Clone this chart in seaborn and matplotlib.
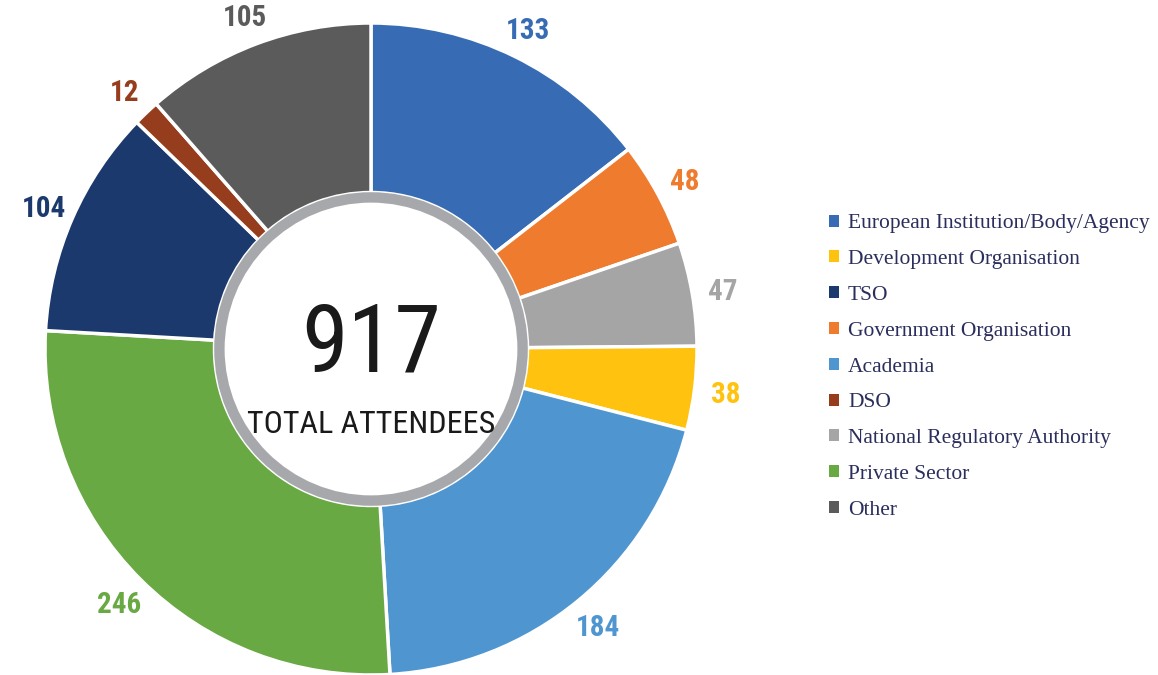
import matplotlib.pyplot as plt
import seaborn as sns
from matplotlib import font_manager
from matplotlib.patches import Circle, Patch

sns.set_style("white")

# pick a narrow sans if one is installed, otherwise Roboto
installed = font_manager.fontManager.ttflist
narrow = None
for f in installed:
    if f.name in ("Roboto Condensed", "Liberation Sans Narrow"):
        narrow = (f.name, "normal")
        break
if narrow is None:
    for f in installed:
        if f.name == "DejaVu Sans" and "condensed" in str(f.stretch).lower():
            narrow = ("DejaVu Sans", "condensed")
            break
if narrow is None:
    narrow = ("Roboto", "normal")
plt.rcParams["font.family"] = [narrow[0], "DejaVu Sans"]
plt.rcParams["font.stretch"] = narrow[1]

# slices, clockwise from 12 o'clock
categories = [
    "European Institution/Body/Agency",
    "Government Organisation",
    "National Regulatory Authority",
    "Development Organisation",
    "Academia",
    "Private Sector",
    "TSO",
    "DSO",
    "Other",
]
attendees = [133, 48, 47, 38, 184, 246, 104, 12, 105]
colors = ["#376CB4", "#EE7B2E", "#A5A5A5", "#FFC20E", "#4F96D1",
          "#68A943", "#1C396D", "#963D1E", "#5A5B5A"]

legend_order = [
    "European Institution/Body/Agency",
    "Development Organisation",
    "TSO",
    "Government Organisation",
    "Academia",
    "DSO",
    "National Regulatory Authority",
    "Private Sector",
    "Other",
]

total = sum(attendees)

W, H = 1158, 675
fig = plt.figure(figsize=(W / 100, H / 100), dpi=100)

# donut centre at (371, 349) px from top-left, radius ~326 px
R = 326
cx, cy = 371, H - 349
span = 2.4 * R
ax = fig.add_axes([(cx - span / 2) / W, (cy - span / 2) / H, span / W, span / H])

wedges, texts = ax.pie(
    attendees,
    colors=colors,
    labels=[str(v) for v in attendees],
    startangle=90,
    counterclock=False,
    labeldistance=1.095,
    wedgeprops={"width": 0.52, "edgecolor": "white", "linewidth": 2.5},
    textprops={"fontsize": 21, "fontweight": "bold"},
)
for t, c in zip(texts, colors):
    t.set_color(c)
    t.set_ha("center")
    t.set_va("center_baseline")

ax.add_patch(Circle((0, 0), 0.465, facecolor="white", edgecolor="#A7A8AB", linewidth=7.5, zorder=5))
ax.text(0, -0.07, str(total), ha="center", va="baseline", fontsize=68,
        color="#1A1A1A", zorder=6)
ax.text(0, -0.258, "TOTAL ATTENDEES", ha="center", va="baseline", fontsize=23,
        color="#1A1A1A", zorder=6)

ax.set_xlim(-1.2, 1.2)
ax.set_ylim(-1.2, 1.2)
ax.axis("off")

handles = [Patch(facecolor=colors[categories.index(n)], edgecolor="none") for n in legend_order]
leg = fig.legend(
    handles,
    legend_order,
    loc="center left",
    bbox_to_anchor=(829 / W, 1 - 367 / H),
    frameon=False,
    prop={"family": ["Liberation Serif", "DejaVu Serif"], "size": 15.5},
    handlelength=0.48,
    handleheight=0.48,
    handletextpad=0.4,
    labelspacing=0.78,
    borderpad=0,
    borderaxespad=0,
)
for t in leg.get_texts():
    t.set_color("#2B2E5C")

fig.savefig("out.png", dpi=100, facecolor="white")
